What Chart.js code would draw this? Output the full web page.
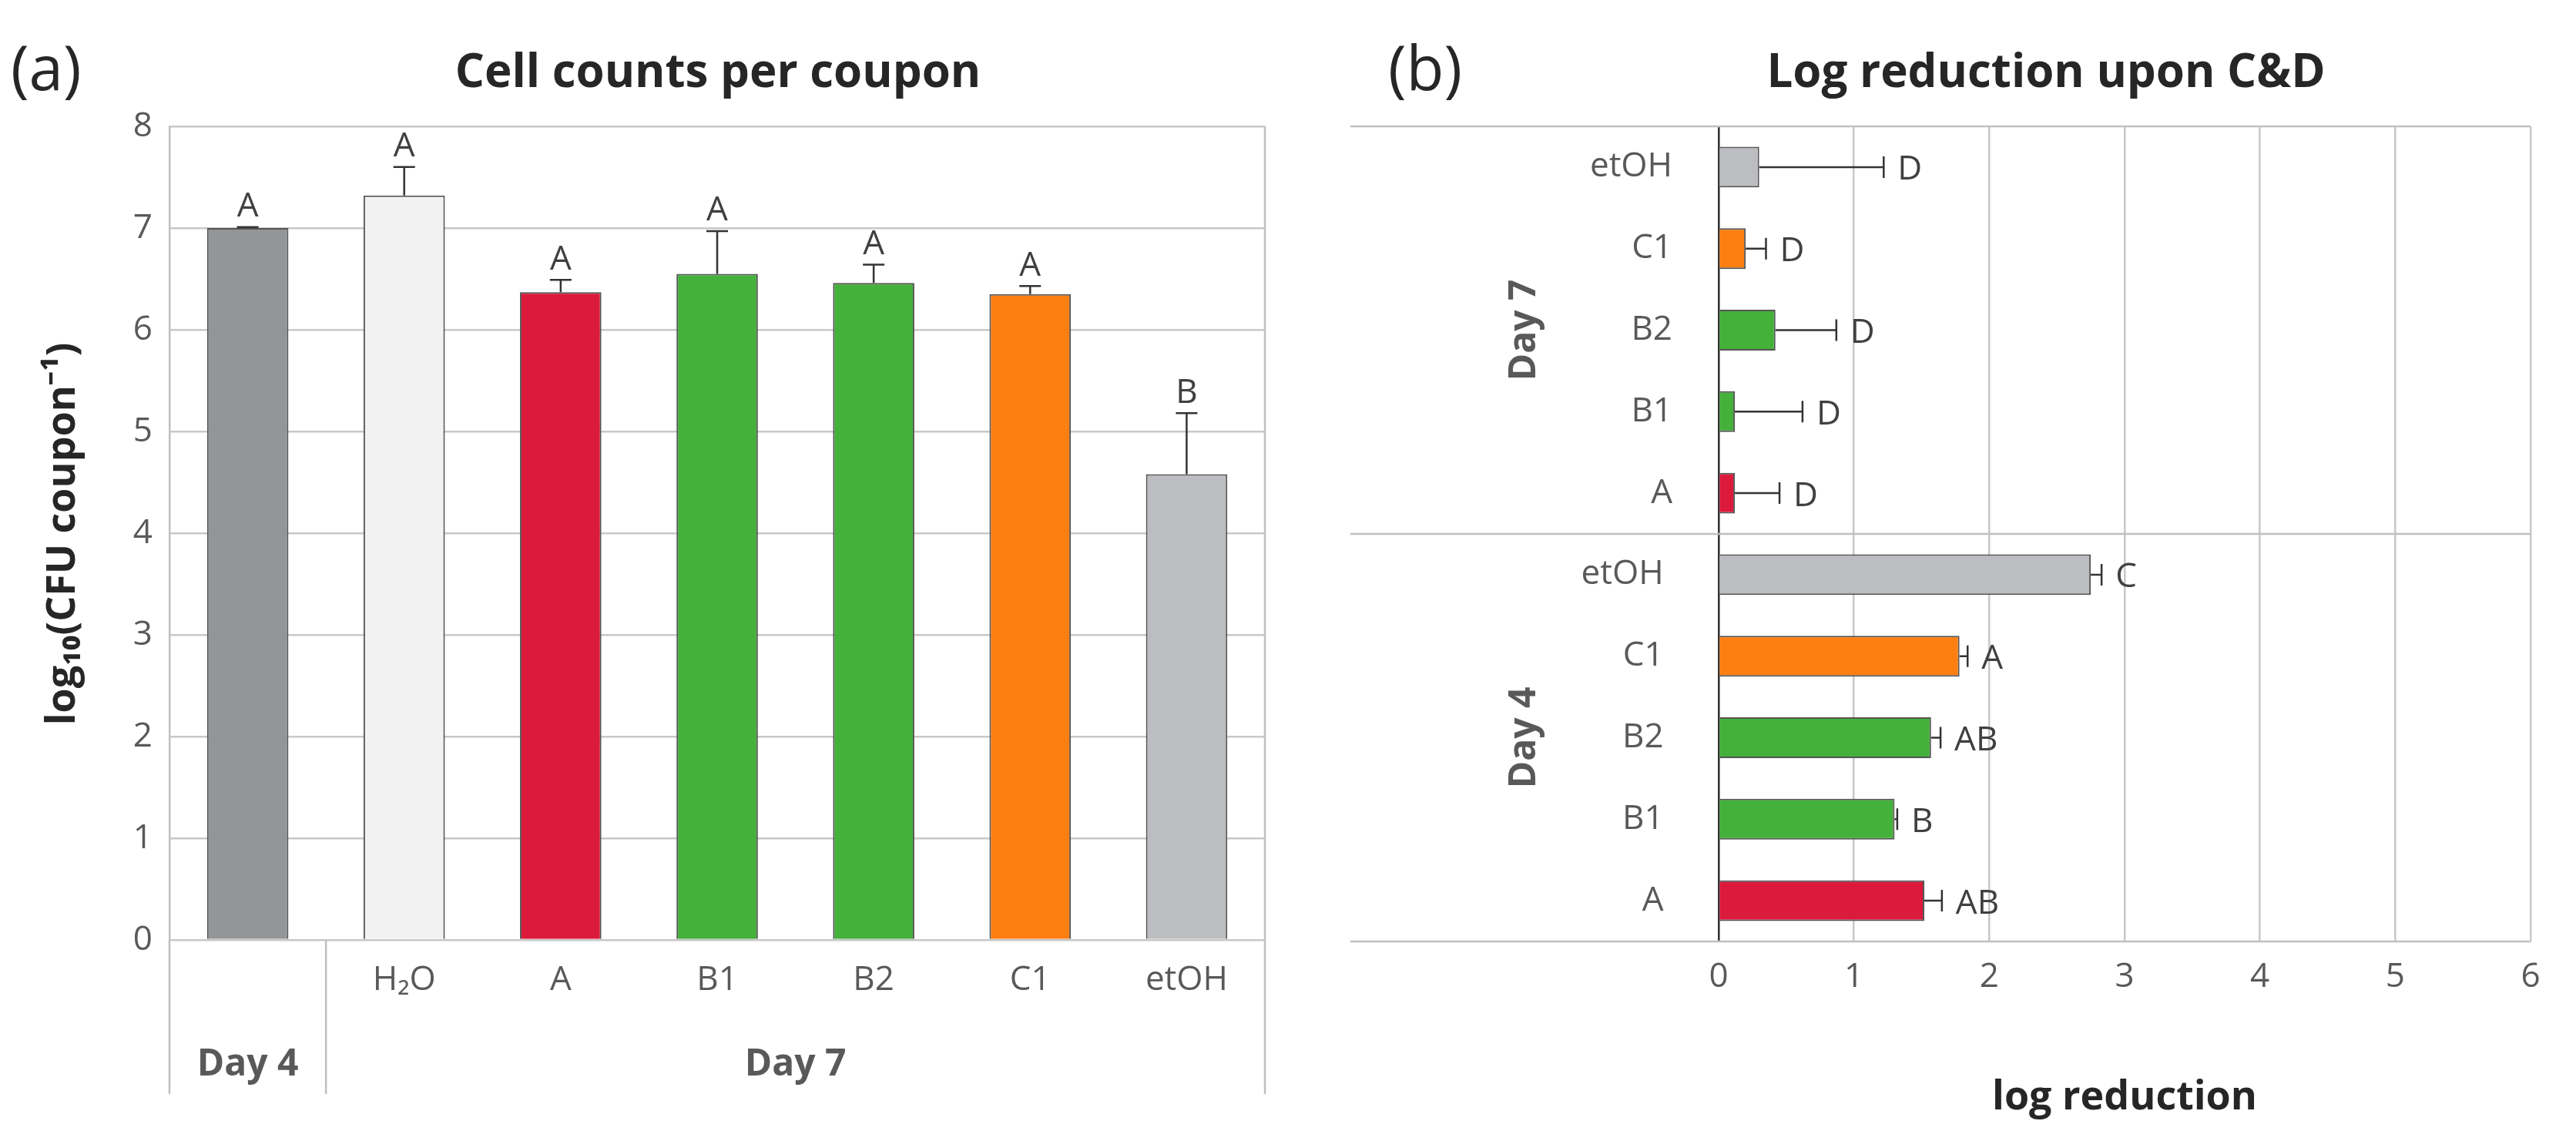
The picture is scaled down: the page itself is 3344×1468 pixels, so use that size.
<!DOCTYPE html>
<html><head><meta charset="utf-8">
<script src="https://cdn.jsdelivr.net/npm/chart.js@4"></script>
<style>body{margin:0;background:#fff;width:3344px;height:1468px;overflow:hidden;position:relative}
canvas{position:absolute;top:0}</style></head>
<body>
<canvas id="ca" style="left:0" width="1660" height="1468"></canvas>
<canvas id="cb" style="left:1700px" width="1644" height="1468"></canvas>
<script>
const catsA = ['', 'H₂O', 'A', 'B1', 'B2', 'C1', 'etOH'];
const valsA = [7.0, 7.32, 6.37, 6.55, 6.46, 6.35, 4.58];
const errA = [0.01, 0.28, 0.12, 0.42, 0.18, 0.08, 0.6];
const letA = ['A', 'A', 'A', 'A', 'A', 'A', 'B'];
const colA = ['#939598', '#f2f2f2', '#dc1a3c', '#43b13a', '#43b13a', '#fd7f12', '#bcbdc0'];
const ticksA = [0,1,2,3,4,5,6,7,8];

const catsB = ['etOH', 'C1', 'B2', 'B1', 'A', 'etOH ', 'C1 ', 'B2 ', 'B1 ', 'A '];
const valsB = [0.3, 0.2, 0.42, 0.12, 0.12, 2.75, 1.78, 1.57, 1.3, 1.52];
const errB = [0.92, 0.15, 0.45, 0.5, 0.33, 0.08, 0.06, 0.07, 0.02, 0.13];
const letB = ['D', 'D', 'D', 'D', 'D', 'C', 'A', 'AB', 'B', 'AB'];
const colB = ['#bcbdc0', '#fd7f12', '#43b13a', '#43b13a', '#dc1a3c', '#bcbdc0', '#fd7f12', '#43b13a', '#43b13a', '#dc1a3c'];

const F = '"Open Sans", "Liberation Sans", sans-serif';
const TXT = '#404040';
Chart.defaults.font.family = F;
Chart.defaults.color = TXT;

const pluginA = {
  id: 'pa',
  afterDatasetsDraw(c) {
    const ctx = c.ctx, x = c.scales.x, y = c.scales.y, meta = c.getDatasetMeta(0);
    ctx.save();
    ctx.strokeStyle = '#333'; ctx.lineWidth = 2.5;
    meta.data.forEach((b, i) => {
      const top = y.getPixelForValue(valsA[i] + errA[i]);
      ctx.beginPath(); ctx.moveTo(b.x, b.y); ctx.lineTo(b.x, top);
      ctx.moveTo(b.x - 14, top); ctx.lineTo(b.x + 14, top); ctx.stroke();
      ctx.fillStyle = TXT; ctx.font = '44px ' + F; ctx.textAlign = 'center'; ctx.textBaseline = 'bottom';
      ctx.fillText(letA[i], b.x, top - 4);
    });
    const ca = c.chartArea;
    ctx.strokeStyle = '#bfbfbf'; ctx.lineWidth = 2.5;
    const sep = (x.getPixelForValue(0) + x.getPixelForValue(1)) / 2;
    [ca.left, sep, ca.right].forEach(px => { ctx.beginPath(); ctx.moveTo(px, ca.bottom); ctx.lineTo(px, 1420); ctx.stroke(); });
    ctx.fillStyle = '#595959'; ctx.font = 'bold 48px ' + F; ctx.textAlign = 'center'; ctx.textBaseline = 'middle';
    ctx.fillText('Day 4', (ca.left + sep) / 2, 1382);
    ctx.fillText('Day 7', (sep + ca.right) / 2, 1382);
    ctx.fillStyle = '#262626'; ctx.font = 'bold 60px ' + F;
    ctx.fillText('Cell counts per coupon', 932, 96);
    ctx.save(); ctx.translate(82, 693); ctx.rotate(-Math.PI / 2);
    ctx.font = 'bold 52px ' + F; ctx.fillText('log₁₀(CFU coupon⁻¹)', 0, 0); ctx.restore();
    ctx.font = '80px ' + F; ctx.textAlign = 'left'; ctx.fillStyle = '#262626';
    ctx.fillText('(a)', 14, 94);
    ctx.restore();
  }
};

new Chart(document.getElementById('ca'), {
  type: 'bar',
  data: { labels: catsA, datasets: [{ data: valsA, backgroundColor: colA, borderColor: '#555', borderWidth: 2, barPercentage: 0.52, categoryPercentage: 1 }] },
  options: {
    responsive: false, animation: false, devicePixelRatio: 1,
    layout: { padding: { top: 164, right: 18 } },
    plugins: { legend: { display: false }, tooltip: { enabled: false } },
    scales: {
      x: { grid: { display: false }, border: { display: false },
        ticks: { font: { size: 44 }, color: '#595959', padding: 18, maxRotation: 0 },
        afterFit(s) { s.height = 248; } },
      y: { min: 0, max: 8, afterBuildTicks(s) { s.ticks = ticksA.map(v => ({ value: v })); },
        grid: { color: '#c8c8c8', lineWidth: 2.5, drawTicks: false }, border: { color: '#bfbfbf', width: 2.5 },
        ticks: { font: { size: 44 }, color: '#595959', padding: 22 },
        afterFit(s) { s.width = 220; } }
    }
  },
  plugins: [pluginA, { id: 'rb', afterDraw(c) { const ca = c.chartArea, ctx = c.ctx; ctx.save(); ctx.strokeStyle = '#bfbfbf'; ctx.lineWidth = 2.5; ctx.beginPath(); ctx.moveTo(ca.right, ca.top); ctx.lineTo(ca.right, ca.bottom); ctx.stroke(); ctx.restore(); } }]
});

const pluginB = {
  id: 'pb',
  afterDatasetsDraw(c) {
    const ctx = c.ctx, x = c.scales.x, meta = c.getDatasetMeta(0), ca = c.chartArea;
    ctx.save();
    ctx.strokeStyle = '#333'; ctx.lineWidth = 2.5;
    meta.data.forEach((b, i) => {
      const r = x.getPixelForValue(valsB[i] + errB[i]);
      ctx.beginPath(); ctx.moveTo(b.x, b.y); ctx.lineTo(r, b.y);
      ctx.moveTo(r, b.y - 14); ctx.lineTo(r, b.y + 14); ctx.stroke();
      ctx.fillStyle = TXT; ctx.font = '44px ' + F; ctx.textAlign = 'left'; ctx.textBaseline = 'middle';
      ctx.fillText(letB[i], r + 18, b.y + 4);
    });
    ctx.strokeStyle = '#bfbfbf'; ctx.lineWidth = 2.5;
    const mid = (meta.data[4].y + meta.data[5].y) / 2;
    [ca.top, mid, ca.bottom].forEach(py => { ctx.beginPath(); ctx.moveTo(53, py); ctx.lineTo(ca.right, py); ctx.stroke(); });
    ctx.fillStyle = '#595959'; ctx.font = 'bold 48px ' + F; ctx.textAlign = 'center'; ctx.textBaseline = 'middle';
    [['Day 7', (ca.top + mid) / 2], ['Day 4', (mid + ca.bottom) / 2]].forEach(([t, py]) => {
      ctx.save(); ctx.translate(279, py); ctx.rotate(-Math.PI / 2); ctx.fillText(t, 0, 0); ctx.restore();
    });
    ctx.fillStyle = '#262626'; ctx.font = 'bold 60px ' + F;
    ctx.fillText('Log reduction upon C&D', 956, 96);
    ctx.font = 'bold 52px ' + F;
    ctx.fillText('log reduction', (ca.left + ca.right) / 2, 1425);
    ctx.font = '80px ' + F; ctx.textAlign = 'left';
    ctx.fillText('(b)', 102, 94);
    ctx.restore();
  }
};

new Chart(document.getElementById('cb'), {
  type: 'bar',
  data: { labels: catsB, datasets: [{ data: valsB, backgroundColor: colB, borderColor: '#555', borderWidth: 2, barPercentage: 0.5, categoryPercentage: 1 }] },
  options: {
    indexAxis: 'y', responsive: false, animation: false, devicePixelRatio: 1,
    layout: { padding: { top: 164, right: 59 } },
    plugins: { legend: { display: false }, tooltip: { enabled: false } },
    scales: {
      x: { min: 0, max: 6, grid: { color: '#c8c8c8', lineWidth: 2.5, drawTicks: false }, border: { display: false },
        ticks: { stepSize: 1, font: { size: 44 }, color: '#595959', padding: 20 },
        afterFit(s) { s.height = 1468 - 1222; } },
      y: { grid: { display: false }, border: { color: '#333', width: 2.5 },
        ticks: { font: { size: 44 }, color: '#595959', padding: 52 },
        afterFit(s) { s.width = 531; } }
    }
  },
  plugins: [pluginB]
});
</script></body></html>
